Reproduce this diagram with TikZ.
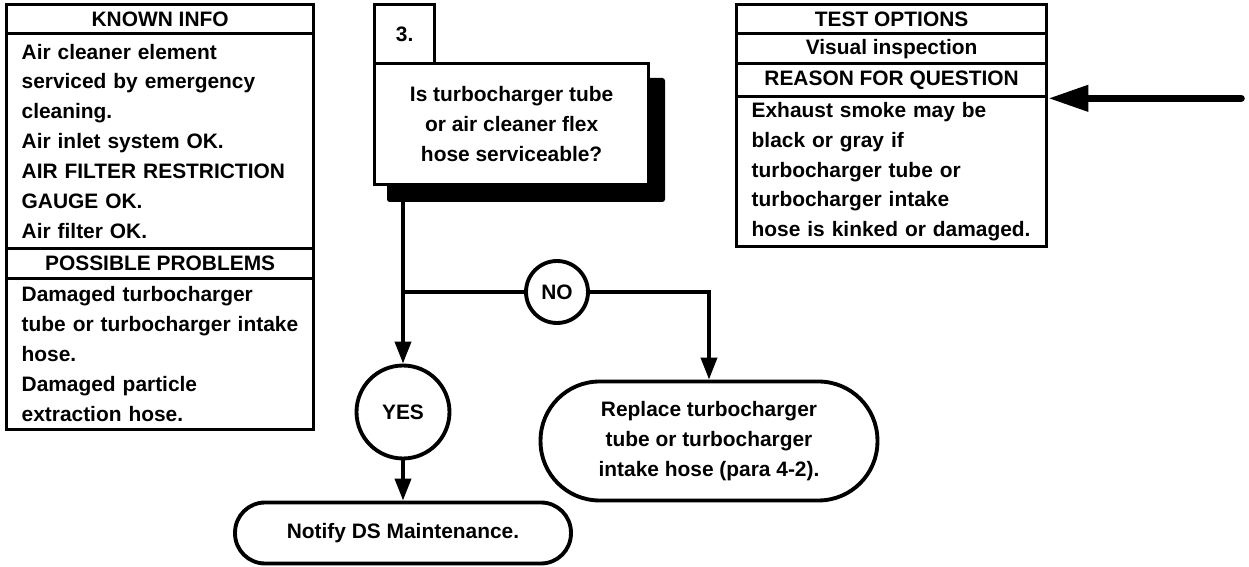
\documentclass[tikz,border=0pt]{standalone}
\usepackage{fontspec}
\setmainfont{Liberation Sans}
\usetikzlibrary{arrows.meta,positioning}

\begin{document}
\begin{tikzpicture}[x=0.02cm, y=-0.02cm, >={Triangle[length=4.4mm,width=3.2mm]},
  font=\bfseries\fontsize{11.9}{17}\selectfont,
  cell/.style={draw, line width=1.9pt, anchor=north west, inner ysep=0pt},
  head/.style={cell, align=center},
  body/.style={cell, align=left, inner xsep=0.3cm},
  flow/.style={line width=2.2pt},
  answer/.style={draw, circle, flow, inner sep=0pt},
  action/.style={draw, flow, align=center}]
\useasboundingbox (0,0) rectangle (1249,567);

% known info and possible problems
\node[head, minimum width=6.14cm, minimum height=0.58cm] (known) at (5,3) {KNOWN INFO};
\node[body, text width=5.54cm, minimum height=4.3cm] (knownbody) at (5,32) {Air cleaner element\\serviced by emergency\\cleaning.\\Air inlet system OK.\\AIR FILTER RESTRICTION\\GAUGE OK.\\Air filter OK.};
\node[head, minimum width=6.14cm, minimum height=0.6cm] (probs) at (5,247) {POSSIBLE PROBLEMS};
\node[body, text width=5.54cm, minimum height=3.02cm] (probsbody) at (5,277) {Damaged turbocharger\\tube or turbocharger intake\\hose.\\Damaged particle\\extraction hose.};

% test options and reason
\node[head, minimum width=6.2cm, minimum height=0.58cm] (tests) at (735,3) {TEST OPTIONS};
\node[head, minimum width=6.2cm, minimum height=0.6cm] (visual) at (735,32) {Visual inspection};
\node[head, minimum width=6.2cm, minimum height=0.66cm] (reason) at (735,62) {REASON FOR QUESTION};
\node[body, text width=5.6cm, minimum height=3.0cm] (reasonbody) at (735,95) {Exhaust smoke may be\\black or gray if\\turbocharger tube or\\turbocharger intake\\hose is kinked or damaged.};

% question with shadow
\fill[rounded corners=1.5pt] (387,78) rectangle (665,202);
\node[cell, fill=white, minimum width=5.48cm, minimum height=2.42cm, align=center] (ques) at (373,62) {Is turbocharger tube\\or air cleaner flex\\hose serviceable?};
\node[cell, fill=white, minimum width=1.2cm, minimum height=1.18cm] (num) at (373,3) {3.};

% answers and actions
\node[answer, minimum size=1.24cm] (no) at (557,292) {NO};
\node[answer, minimum size=1.86cm] (yes) at (403,412) {YES};
\node[action, rounded corners=1.18cm, minimum width=6.74cm, minimum height=2.38cm] (repl) at (709,441) {Replace turbocharger\\tube or turbocharger\\intake hose (para 4-2).};
\node[action, rounded corners=0.6cm, minimum width=6.72cm, minimum height=1.22cm] (note) at (403,533) {Notify DS Maintenance.};

\coordinate (split) at (403,292);
\path (reason.south east) ++(193,0) coordinate (feed);
\draw[flow] (ques.south -| split) -- (split) -- (no);
\draw[flow, ->] (split) -- (yes);
\draw[flow, ->] (no) -| (repl);
\draw[flow, ->] (yes) -- (note);
\draw[line width=4pt, line cap=round, -{Triangle[length=8mm,width=5mm]}] (feed) -- (reason.south east);
\end{tikzpicture}
\end{document}
